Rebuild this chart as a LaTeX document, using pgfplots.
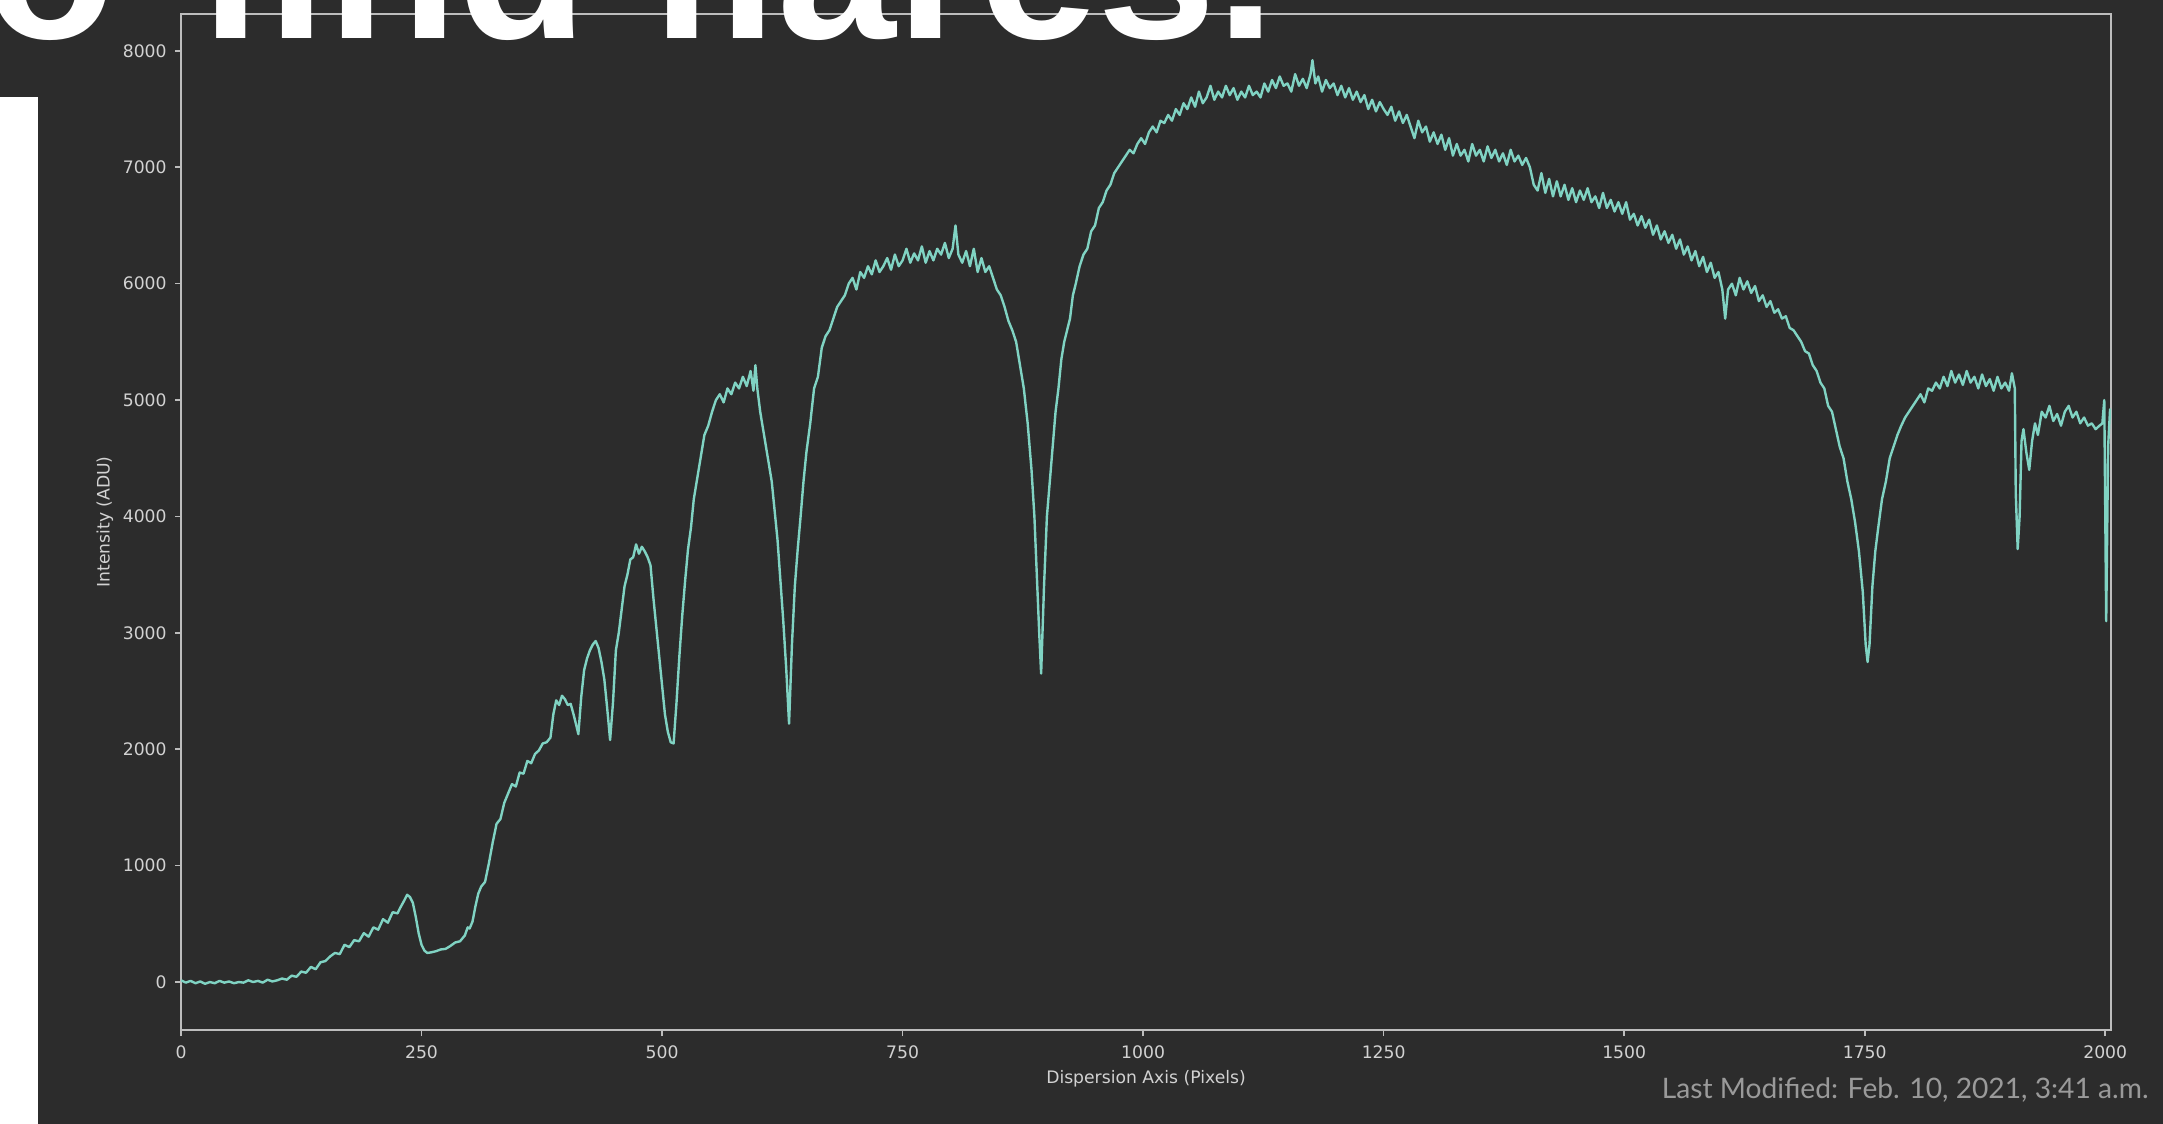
\documentclass[border=0pt]{standalone}
\usepackage{pgfplots}
\pgfplotsset{compat=1.18}
\usepackage{fontspec}
\setmainfont{DejaVu Sans}
\newfontfamily\headfont{Liberation Sans}
\newfontfamily\latofont{Lato}
\definecolor{bgdark}{HTML}{2C2C2C}
\definecolor{axisgray}{HTML}{BDBDBD}
\definecolor{labelgray}{HTML}{D2D2D2}
\definecolor{mint}{HTML}{80D3C3}
\definecolor{modgray}{HTML}{9A9A9A}
\begin{document}
\begin{tikzpicture}[x=0.5pt,y=0.5pt]
\fill[bgdark] (0,0) rectangle (2163,1124);
\fill[white] (0,0) rectangle (38,1027);
\useasboundingbox (0,0) rectangle (2163,1124);
\begin{scope}
\clip (0,0) rectangle (2163,1124);
\begin{axis}[
  at={(90.5pt,47pt)}, anchor=south west,
  scale only axis, width=965pt, height=508pt,
  xmin=0, xmax=2006, ymin=-412, ymax=8317,
  axis line style={draw=axisgray, line width=1pt},
  tick style={draw=axisgray, line width=0.8pt},
  tick align=outside, major tick length=3pt,
  xtick pos=bottom, ytick pos=left,
  xtick={0,250,500,750,1000,1250,1500,1750,2000},
  ytick={0,1000,2000,3000,4000,5000,6000,7000,8000},
  minor tick num=0,
  /pgf/number format/assume math mode=true,
  /pgf/number format/1000 sep={},
  ticklabel style={font=\fontsize{8.6}{10}\selectfont, text=labelgray},
  xticklabel style={anchor=north, inner sep=0pt, yshift=-4.5pt},
  yticklabel style={anchor=east, inner sep=0pt, xshift=-4pt},
  xlabel={Dispersion Axis (Pixels)},
  ylabel={Intensity (ADU)},
  label style={font=\fontsize{8.6}{10}\selectfont, text=labelgray},
  xlabel style={at={(axis description cs:0.5,-0.048)}, anchor=center},
  ylabel style={at={(axis description cs:-0.0394,0.5)}, anchor=center},
  title={SOAR2021-007},
  title style={at={(axis description cs:0.5,1)}, anchor=base, yshift=10pt, font=\fontsize{10.2}{12}\selectfont, text=labelgray},
  clip=true,
]
\addplot[mint, line width=1.2pt, line join=round] coordinates {
(0,15)(5,-5)(10,10)(15,-10)(20,5)(25,-15)(30,0)(35,-10)(40,10)(45,-5)(50,5)(55,-10)(60,0)(65,-5)(70,15)(75,0)(80,10)(85,-5)(90,20)(95,5)(100,15)
(105,30)(110,20)(115,55)(120,45)(125,90)(130,80)(135,130)(140,110)(145,170)(150,180)(155,220)(160,250)(165,240)(170,320)(175,300)(180,360)(185,350)(190,420)(195,390)(200,470)(205,450)(210,540)(215,510)(220,600)(225,590)(228,640)(232,700)(235,750)(238,730)(241,680)(244,560)(247,420)(250,320)(253,270)(256,250)(260,255)(265,265)(270,280)(275,285)(280,310)(285,340)(290,350)(295,400)(298,470)(300,460)(303,520)(306,650)(309,760)(312,820)(316,860)(320,1020)(324,1200)(328,1360)(332,1400)(336,1540)(340,1620)(344,1700)(348,1680)(352,1800)(356,1790)(360,1900)(364,1880)(368,1960)(372,1990)(376,2050)(380,2060)(384,2100)(387,2300)(390,2420)(393,2380)(396,2460)(399,2430)(402,2380)(405,2390)(408,2300)(411,2200)(413,2130)(416,2450)(419,2680)(422,2780)(425,2850)(428,2900)(431,2930)(434,2870)(437,2750)(440,2600)(443,2350)(446,2080)(449,2400)(452,2850)(455,3000)(458,3200)(461,3400)(464,3500)(467,3630)(470,3650)(473,3760)(476,3680)(479,3740)(482,3700)(485,3650)(488,3580)(491,3300)(494,3050)(497,2800)(500,2550)(503,2300)(506,2150)(509,2060)(512,2050)(515,2400)(518,2800)(521,3150)(524,3450)(527,3720)(530,3900)(533,4150)(536,4300)(540,4500)(544,4700)(548,4780)(552,4900)(556,5000)(560,5050)(564,4980)(568,5100)(572,5050)(576,5150)(580,5100)(584,5200)(588,5120)(592,5250)(595,5080)(597,5300)(599,5100)(602,4900)(605,4750)(608,4600)(611,4450)(614,4300)(617,4050)(620,3800)(623,3450)(626,3100)(629,2700)(632,2220)(635,2900)(638,3400)(641,3720)(644,4000)(647,4300)(650,4550)(654,4800)(658,5100)(662,5200)(666,5450)(670,5550)(674,5600)(678,5700)(682,5800)(686,5850)(690,5900)(694,6000)(698,6050)(702,5950)(706,6100)(710,6050)(714,6150)(718,6080)(722,6200)(726,6100)(730,6150)(734,6220)(738,6120)(742,6250)(746,6150)(750,6200)(754,6300)(758,6180)(762,6260)(766,6200)(770,6320)(774,6180)(778,6280)(782,6200)(786,6300)(790,6250)(794,6350)(798,6220)(802,6300)(805,6500)(808,6250)(812,6180)(816,6280)(820,6150)(824,6300)(828,6100)(832,6220)(836,6100)(840,6150)(844,6050)(848,5950)(852,5900)(856,5800)(860,5680)(864,5600)(868,5500)(872,5300)(876,5100)(880,4800)(884,4400)(887,4000)(890,3400)(892,3000)(894,2650)(897,3400)(900,4000)(903,4300)(906,4600)(909,4900)(912,5100)(915,5350)(918,5500)(921,5600)(924,5700)(927,5900)(930,6000)(934,6150)(938,6250)(942,6300)(946,6450)(950,6500)(954,6650)(958,6700)(962,6800)(966,6850)(970,6950)(974,7000)(978,7050)(982,7100)(986,7150)(990,7120)(994,7200)(998,7250)(1002,7200)(1006,7300)(1010,7350)(1014,7300)(1018,7400)(1022,7380)(1026,7450)(1030,7400)(1034,7500)(1038,7450)(1042,7550)(1046,7500)(1050,7600)(1054,7520)(1058,7650)(1062,7550)(1066,7600)(1070,7700)(1074,7580)(1078,7650)(1082,7600)(1086,7700)(1090,7620)(1094,7680)(1098,7580)(1102,7650)(1106,7600)(1110,7700)(1114,7620)(1118,7650)(1122,7600)(1126,7720)(1130,7650)(1134,7750)(1138,7680)(1142,7780)(1146,7700)(1150,7720)(1154,7650)(1158,7800)(1162,7700)(1166,7760)(1170,7680)(1174,7800)(1176,7920)(1179,7720)(1182,7780)(1186,7650)(1190,7750)(1194,7680)(1198,7720)(1202,7620)(1206,7700)(1210,7600)(1214,7680)(1218,7580)(1222,7650)(1226,7560)(1230,7620)(1234,7500)(1238,7580)(1242,7480)(1246,7560)(1250,7500)(1254,7450)(1258,7520)(1262,7400)(1266,7480)(1270,7380)(1274,7450)(1278,7350)(1282,7250)(1286,7400)(1290,7300)(1294,7350)(1298,7220)(1302,7300)(1306,7200)(1310,7280)(1314,7150)(1318,7250)(1322,7100)(1326,7200)(1330,7100)(1334,7150)(1338,7050)(1342,7200)(1346,7100)(1350,7150)(1354,7050)(1358,7180)(1362,7080)(1366,7150)(1370,7050)(1374,7120)(1378,7020)(1382,7150)(1386,7050)(1390,7100)(1394,7020)(1398,7080)(1402,7000)(1406,6850)(1410,6800)(1414,6950)(1418,6780)(1422,6900)(1426,6750)(1430,6880)(1434,6750)(1438,6850)(1442,6720)(1446,6820)(1450,6700)(1454,6800)(1458,6720)(1462,6820)(1466,6700)(1470,6750)(1474,6650)(1478,6780)(1482,6650)(1486,6720)(1490,6620)(1494,6700)(1498,6600)(1502,6700)(1506,6550)(1510,6600)(1514,6500)(1518,6580)(1522,6480)(1526,6550)(1530,6420)(1534,6500)(1538,6380)(1542,6450)(1546,6350)(1550,6420)(1554,6300)(1558,6380)(1562,6250)(1566,6320)(1570,6200)(1574,6280)(1578,6150)(1582,6230)(1586,6100)(1590,6180)(1594,6050)(1598,6100)(1602,5950)(1605,5700)(1608,5950)(1612,6000)(1616,5900)(1620,6050)(1624,5950)(1628,6020)(1632,5920)(1636,5980)(1640,5850)(1644,5900)(1648,5800)(1652,5850)(1656,5750)(1660,5780)(1664,5700)(1668,5720)(1672,5620)(1676,5600)(1680,5550)(1684,5500)(1688,5420)(1692,5400)(1696,5300)(1700,5250)(1704,5150)(1708,5100)(1712,4950)(1716,4900)(1720,4750)(1724,4600)(1728,4500)(1732,4300)(1736,4150)(1740,3950)(1744,3700)(1748,3350)(1751,2900)(1753,2750)(1755,2900)(1758,3400)(1761,3700)(1764,3900)(1768,4150)(1772,4300)(1776,4500)(1780,4600)(1784,4700)(1788,4780)(1792,4850)(1796,4900)(1800,4950)(1804,5000)(1808,5050)(1812,4980)(1816,5100)(1820,5080)(1824,5150)(1828,5100)(1832,5200)(1836,5120)(1840,5250)(1844,5150)(1848,5220)(1852,5130)(1856,5250)(1860,5150)(1864,5200)(1868,5100)(1872,5220)(1876,5120)(1880,5180)(1884,5080)(1888,5200)(1892,5100)(1896,5150)(1900,5080)(1903,5230)(1906,5100)(1907,4200)(1909,3720)(1911,4000)(1913,4650)(1915,4750)(1918,4550)(1921,4400)(1924,4650)(1927,4800)(1930,4700)(1934,4900)(1938,4850)(1942,4950)(1946,4820)(1950,4880)(1954,4780)(1958,4900)(1962,4950)(1966,4850)(1970,4900)(1974,4800)(1978,4850)(1982,4780)(1986,4800)(1990,4750)(1994,4780)(1997,4800)(1999,5000)(2001,3100)(2003,4600)(2005,4920)(2006,4850)
};
\end{axis}
\node[anchor=base west, inner sep=0pt, text=white, font=\headfont\bfseries\fontsize{106.7}{110}\selectfont] at (-14.7,1085) {o};
\node[anchor=base west, inner sep=0pt, text=white, font=\headfont\bfseries\fontsize{106.7}{110}\selectfont] at (196.4,1085) {find flares.};
\end{scope}
\node[anchor=base east, inner sep=0pt, text=modgray, font=\latofont\fontsize{14.1}{16}\selectfont] at (2149,25) {Last Modified: Feb. 10, 2021, 3:41 a.m.};
\end{tikzpicture}
\end{document}
